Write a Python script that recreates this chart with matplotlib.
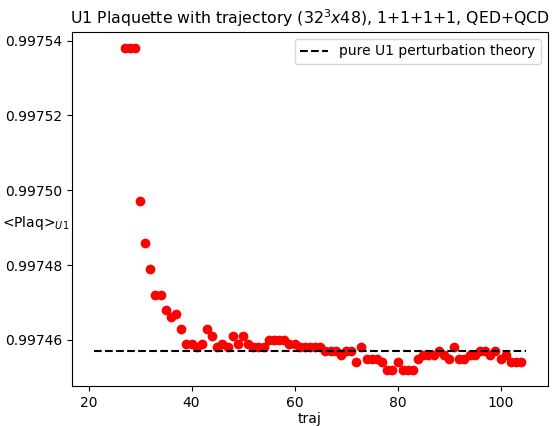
import numpy as np
import matplotlib
matplotlib.use("Agg")
import matplotlib.pyplot as plt

# trajectory numbers and measured U1 plaquette
traj = np.arange(27, 105)
plaq = [
    0.997538, 0.997538, 0.997538, 0.997497, 0.997486, 0.997479, 0.997472, 0.997472,  # 27-34
    0.997468, 0.997466, 0.997467, 0.997463, 0.997459, 0.997459, 0.997458, 0.997459,  # 35-42
    0.997463, 0.997461, 0.997458, 0.997459, 0.997458, 0.997461, 0.997459, 0.997461,  # 43-50
    0.997459, 0.997458, 0.997458, 0.997458, 0.997460, 0.997460, 0.997460, 0.997460,  # 51-58
    0.997459, 0.997459, 0.997458, 0.997458, 0.997458, 0.997458, 0.997458, 0.997457,  # 59-66
    0.997457, 0.997457, 0.997456, 0.997457, 0.997457, 0.997454, 0.997458, 0.997455,  # 67-74
    0.997455, 0.997455, 0.997454, 0.997452, 0.997452, 0.997454, 0.997452, 0.997452,  # 75-82
    0.997452, 0.997455, 0.997456, 0.997456, 0.997456, 0.997457, 0.997456, 0.997455,  # 83-90
    0.997458, 0.997455, 0.997455, 0.997456, 0.997456, 0.997457, 0.997457, 0.997456,  # 91-98
    0.997457, 0.997455, 0.997456, 0.997454, 0.997454, 0.997454,                      # 99-104
]

# perturbation theory reference
pt_x = [21, 105]
pt_value = 0.997457

fig = plt.figure(figsize=(5.54, 4.26), dpi=100)
ax = fig.add_axes([0.130, 0.094, 0.859, 0.831])

ax.plot(traj, plaq, 'ro')
ax.plot(pt_x, [pt_value, pt_value], 'k--', label='pure U1 perturbation theory')

ax.set_title(r'U1 Plaquette with trajectory ($32^3x48$), 1+1+1+1, QED+QCD', fontsize=11.3)
ax.set_xlabel('traj', labelpad=2)
ax.set_ylabel(r'<Plaq>$_{U1}$', rotation=0, ha='center', va='center')
ax.yaxis.set_label_coords(-0.076, 0.46)
ax.set_yticks([0.99746, 0.99748, 0.99750, 0.99752, 0.99754])
ax.set_yticklabels(['0.99746', '0.99748', '0.99750', '0.99752', '0.99754'])
ax.legend(loc='upper right')

fig.savefig('out.png', dpi=100)
